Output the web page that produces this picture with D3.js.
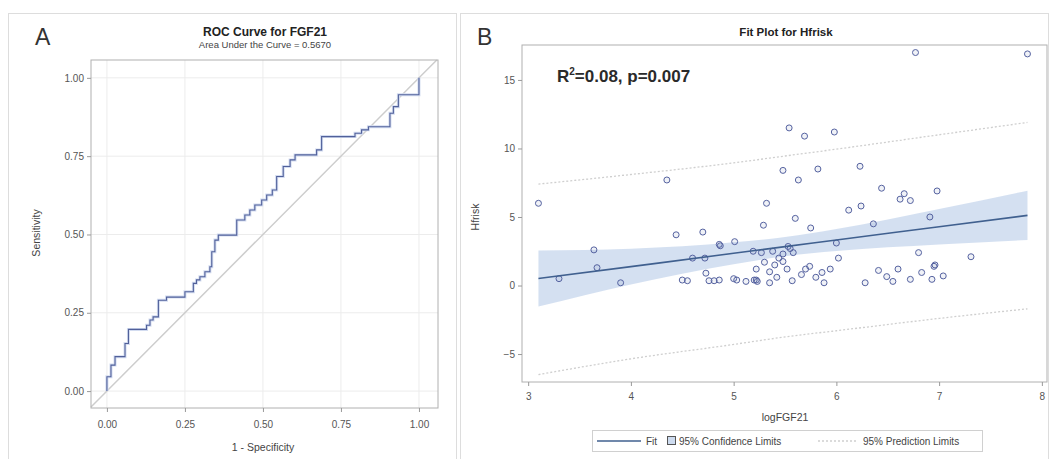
<!DOCTYPE html>
<html>
<head>
<meta charset="utf-8">
<script src="https://cdn.jsdelivr.net/npm/d3@7"></script>
<style>
  body { margin: 0; background: #fff; }
  text { font-family: "Liberation Sans", Arial, sans-serif; }
</style>
</head>
<body>
<div id="chart"></div>
<script>
var w = 1051;
var h = 459;

// ROC curve (1 - specificity, sensitivity) step corners
var rocFpr = [0, 0.013, 0.026, 0.058, 0.069, 0.127, 0.138, 0.148, 0.165, 0.191, 0.25, 0.277, 0.287, 0.298, 0.314, 0.33, 0.336, 0.346, 0.357, 0.416, 0.442, 0.458, 0.474, 0.496, 0.512, 0.53, 0.544, 0.565, 0.587, 0.603, 0.672, 0.688, 0.795, 0.816, 0.838, 0.907, 0.918, 0.934, 0.95, 1.0, 1.0];
var rocTpr = [0, 0.046, 0.083, 0.11, 0.152, 0.197, 0.21, 0.227, 0.237, 0.29, 0.30, 0.317, 0.344, 0.355, 0.365, 0.381, 0.397, 0.445, 0.482, 0.498, 0.546, 0.562, 0.578, 0.594, 0.61, 0.626, 0.642, 0.685, 0.717, 0.738, 0.754, 0.77, 0.8125, 0.823, 0.834, 0.844, 0.887, 0.908, 0.946, 0.946, 1.0];
var rocTicks = [0, 0.25, 0.5, 0.75, 1];

// fit plot points
var logFGF21 = [3.10, 3.30, 3.64, 3.67, 3.90, 4.35, 4.44, 4.70, 4.50, 4.55, 4.60, 4.72, 4.73, 4.76, 4.81, 4.86, 4.86, 4.87, 5.01, 5.00, 5.03, 5.20, 5.23, 5.19, 5.22, 5.54, 5.69, 5.98, 5.48, 5.63, 5.82, 6.23, 5.32, 6.44, 6.62, 6.66, 6.72, 6.98, 6.12, 6.24, 6.91, 5.60, 5.75, 5.29, 6.36, 6.77, 7.86, 5.53, 5.55, 6.00, 6.02, 6.80, 7.31, 6.96, 5.30, 5.35, 5.22, 5.35, 5.48, 5.52, 5.57, 5.48, 5.66, 5.70, 5.74, 5.80, 5.86, 5.88, 5.94, 6.28, 6.41, 6.49, 6.55, 6.60, 6.72, 6.83, 6.93, 7.04, 5.40, 5.44, 5.42, 5.12, 5.38, 5.58, 5.27, 6.95];
var hfrisk = [6.0, 0.5, 2.6, 1.3, 0.2, 7.7, 3.7, 3.9, 0.4, 0.35, 2.0, 2.0, 0.9, 0.35, 0.35, 0.4, 3.0, 2.9, 3.2, 0.5, 0.4, 0.4, 0.3, 2.5, 1.2, 11.5, 10.9, 11.2, 8.4, 7.7, 8.5, 8.7, 6.0, 7.1, 6.3, 6.7, 6.2, 6.9, 5.5, 5.8, 5.0, 4.9, 4.2, 4.4, 4.5, 17.0, 16.9, 2.85, 2.7, 3.1, 2.0, 2.4, 2.1, 1.5, 1.7, 1.0, 0.4, 0.2, 1.75, 1.2, 0.35, 2.3, 0.8, 1.2, 1.4, 0.6, 0.95, 0.2, 1.2, 0.2, 1.1, 0.65, 0.3, 1.2, 0.45, 0.95, 0.45, 0.7, 1.5, 2.0, 0.6, 0.3, 2.5, 2.4, 2.4, 1.4];

// fit line, confidence and prediction limits
var bandX = [3.1, 4, 5, 5.5, 6, 7, 7.86];
var fitY = [0.51, 1.38, 2.35, 2.84, 3.32, 4.29, 5.12];
var clUpper = [2.56, 2.68, 3.15, 3.54, 4.12, 5.59, 6.92];
var clLower = [-1.54, 0.08, 1.55, 2.14, 2.52, 2.99, 3.32];
var plUpper = [7.4, 8.1, 8.95, 9.45, 9.95, 11.0, 11.9];
var plLower = [-6.5, -5.35, -4.3, -3.75, -3.3, -2.4, -1.7];
var fitXTicks = [3, 4, 5, 6, 7, 8];
var fitYTicks = [-5, 0, 5, 10, 15];

var blue = "#445694";
var tickCol = "#555";

var svg = d3.select("#chart")
            .append("svg")
            .attr("width", w)
            .attr("height", h);

// パネル枠
svg.append("rect").attr("x", 8.5).attr("y", 13.5).attr("width", 448).attr("height", 460)
   .style("fill", "none").style("stroke", "#ddd");
svg.append("rect").attr("x", 460.5).attr("y", 13.5).attr("width", 588).attr("height", 460)
   .style("fill", "none").style("stroke", "#ddd");

// ---------- Panel A : ROC ----------
var ax = d3.scaleLinear().domain([-0.051, 1.061]).range([91, 438]);
var ay = d3.scaleLinear().domain([-0.054, 1.057]).range([408, 60]);

var gA = svg.append("g");

// grid
gA.selectAll(".gx").data(rocTicks).enter().append("line")
  .attr("x1", function(d) { return ax(d); }).attr("x2", function(d) { return ax(d); })
  .attr("y1", 60).attr("y2", 408)
  .style("stroke", "#ececec");
gA.selectAll(".gy").data(rocTicks).enter().append("line")
  .attr("y1", function(d) { return ay(d); }).attr("y2", function(d) { return ay(d); })
  .attr("x1", 91).attr("x2", 438)
  .style("stroke", "#ececec");

// diagonal
gA.append("line")
  .attr("x1", ax(-0.051)).attr("y1", ay(-0.051))
  .attr("x2", ax(1.057)).attr("y2", ay(1.057))
  .style("stroke", "#cdcdcd").style("stroke-width", 1.5);

// ROC step curve
var rocLine = d3.line()
  .x(function(d, i) { return ax(rocFpr[i]); })
  .y(function(d, i) { return ay(rocTpr[i]); })
  .curve(d3.curveStepBefore);
gA.append("path")
  .attr("d", rocLine(rocFpr))
  .style("fill", "none").style("stroke", "#d3dcf0").style("stroke-width", 3);
gA.append("path")
  .attr("d", rocLine(rocFpr))
  .style("fill", "none").style("stroke", "#51609a").style("stroke-width", 1.1);

gA.append("rect").attr("x", 91).attr("y", 60).attr("width", 347).attr("height", 348)
  .style("fill", "none").style("stroke", "#b0b0b0");

var fmt2 = d3.format(".2f");
gA.append("g").attr("transform", "translate(0,408)")
  .call(d3.axisBottom(ax).tickValues(rocTicks).tickFormat(fmt2).tickSize(4).tickPadding(9))
  .call(styleAxis);
gA.append("g").attr("transform", "translate(91,0)")
  .call(d3.axisLeft(ay).tickValues(rocTicks).tickFormat(fmt2).tickSize(4))
  .call(styleAxis);

gA.append("text").attr("x", 265).attr("y", 36).attr("text-anchor", "middle")
  .style("font-size", "12px").style("font-weight", "bold").style("fill", "#222")
  .text("ROC Curve for FGF21");
gA.append("text").attr("x", 265).attr("y", 48).attr("text-anchor", "middle")
  .style("font-size", "9.5px").style("fill", "#444")
  .text("Area Under the Curve = 0.5670");
gA.append("text").attr("x", 263).attr("y", 451).attr("text-anchor", "middle")
  .style("font-size", "10.5px").style("fill", "#444")
  .text("1 - Specificity");
gA.append("text").attr("transform", "translate(40,233) rotate(-90)").attr("text-anchor", "middle")
  .style("font-size", "10.5px").style("fill", "#444")
  .text("Sensitivity");
gA.append("text").attr("x", 35).attr("y", 45)
  .style("font-size", "23px").style("fill", "#333")
  .text("A");

// ---------- Panel B : Fit plot ----------
var bx = d3.scaleLinear().domain([2.94, 8.05]).range([522, 1047]);
var by = d3.scaleLinear().domain([-7.04, 17.55]).range([382, 45]);

var gB = svg.append("g");

var area = d3.area()
  .x(function(d, i) { return bx(bandX[i]); })
  .y0(function(d, i) { return by(clLower[i]); })
  .y1(function(d, i) { return by(clUpper[i]); })
  .curve(d3.curveMonotoneX);
gB.append("path").attr("d", area(bandX))
  .style("fill", "#cddbef").style("opacity", 0.85);

var lineOf = function(arr) {
  return d3.line()
    .x(function(d, i) { return bx(bandX[i]); })
    .y(function(d, i) { return by(arr[i]); })
    .curve(d3.curveMonotoneX)(bandX);
};
gB.append("path").attr("d", lineOf(plUpper))
  .style("fill", "none").style("stroke", "#cfcfcf").style("stroke-width", 1.3).style("stroke-dasharray", "2,2");
gB.append("path").attr("d", lineOf(plLower))
  .style("fill", "none").style("stroke", "#cfcfcf").style("stroke-width", 1.3).style("stroke-dasharray", "2,2");

gB.selectAll("circle")
  .data(logFGF21)
  .enter()
  .append("circle")
  .attr("cx", function(d) { return bx(d); })
  .attr("cy", function(d, i) { return by(hfrisk[i]); })
  .attr("r", 3)
  .style("fill", blue).style("fill-opacity", 0.08)
  .style("stroke", "#5562a0").style("stroke-width", 1);

gB.append("path").attr("d", lineOf(fitY))
  .style("fill", "none").style("stroke", "#40608f").style("stroke-width", 1.6);

gB.append("rect").attr("x", 522).attr("y", 45).attr("width", 525).attr("height", 337)
  .style("fill", "none").style("stroke", "#b0b0b0");

gB.append("g").attr("transform", "translate(0,382)")
  .call(d3.axisBottom(bx).tickValues(fitXTicks).tickFormat(d3.format("d")).tickSize(4).tickPadding(7))
  .call(styleAxis);
gB.append("g").attr("transform", "translate(522,0)")
  .call(d3.axisLeft(by).tickValues(fitYTicks).tickSize(4))
  .call(styleAxis);

gB.append("text").attr("x", 786).attr("y", 36).attr("text-anchor", "middle")
  .style("font-size", "11.5px").style("font-weight", "bold").style("fill", "#222")
  .text("Fit Plot for Hfrisk");
gB.append("text").attr("x", 785).attr("y", 421).attr("text-anchor", "middle")
  .style("font-size", "10.5px").style("fill", "#444")
  .text("logFGF21");
gB.append("text").attr("transform", "translate(479,217) rotate(-90)").attr("text-anchor", "middle")
  .style("font-size", "10.5px").style("fill", "#444")
  .text("Hfrisk");
gB.append("text").attr("x", 477).attr("y", 45)
  .style("font-size", "23px").style("fill", "#333")
  .text("B");

var r2 = gB.append("text").attr("x", 557).attr("y", 82)
  .style("font-size", "17px").style("font-weight", "bold").style("fill", "#2a2a2a");
r2.append("tspan").text("R");
r2.append("tspan").attr("dy", -7).style("font-size", "10px").text("2");
r2.append("tspan").attr("dy", 7).text("=0.08, p=0.007");

// legend
var lg = gB.append("g");
lg.append("rect").attr("x", 592.5).attr("y", 430.5).attr("width", 390).attr("height", 21)
  .style("fill", "#fff").style("stroke", "#d0d0d0");
lg.append("line").attr("x1", 597).attr("x2", 641).attr("y1", 441).attr("y2", 441)
  .style("stroke", "#40608f").style("stroke-width", 1.6);
lg.append("text").attr("x", 646).attr("y", 445).style("font-size", "10px").style("fill", "#444").text("Fit");
lg.append("rect").attr("x", 667.5).attr("y", 436.5).attr("width", 8).attr("height", 8)
  .style("fill", "#cddbef").style("stroke", "#555");
lg.append("text").attr("x", 679).attr("y", 445).style("font-size", "10px").style("fill", "#444").text("95% Confidence Limits");
lg.append("line").attr("x1", 818).attr("x2", 858).attr("y1", 441).attr("y2", 441)
  .style("stroke", "#cfcfcf").style("stroke-width", 1.3).style("stroke-dasharray", "2,2");
lg.append("text").attr("x", 863).attr("y", 445).style("font-size", "10px").style("fill", "#444").text("95% Prediction Limits");

function styleAxis(g) {
  g.select(".domain").remove();
  g.selectAll(".tick line").style("stroke", "#999");
  g.selectAll(".tick text").style("fill", tickCol).style("font-size", "10px")
    .style("font-family", "'Liberation Sans', Arial, sans-serif");
}
</script>
</body>
</html>
